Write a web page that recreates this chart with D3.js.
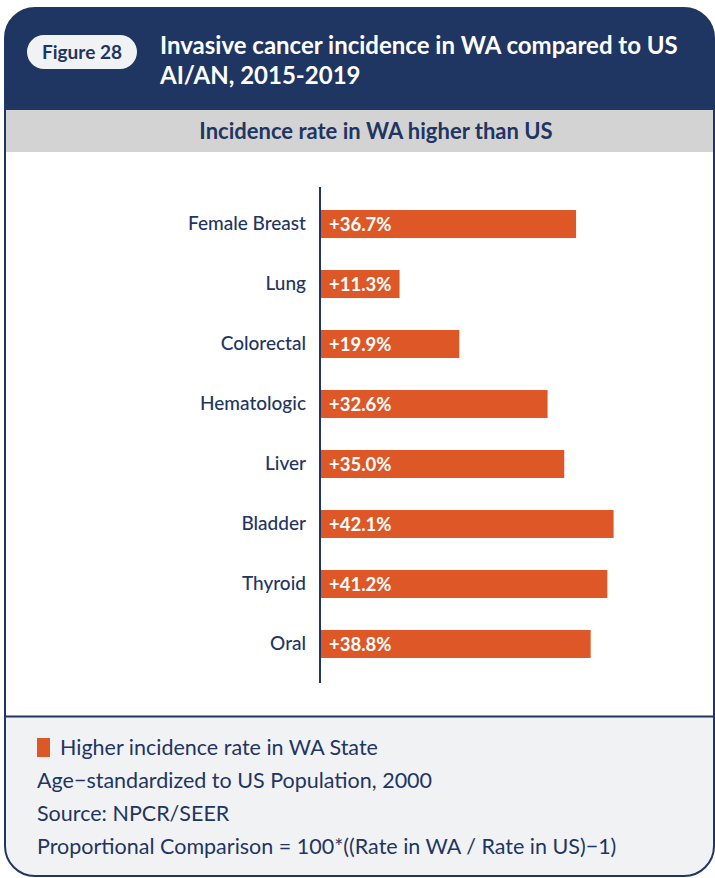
<!DOCTYPE html>
<html>
<head>
<meta charset="utf-8">
<script src="https://cdn.jsdelivr.net/npm/d3@7"></script>
<style>
  html, body { margin: 0; padding: 0; background: #ffffff; }
  svg { display: block; }
  text { font-family: Lato, "Open Sans", sans-serif; }
</style>
</head>
<body>
<svg id="chart" width="715" height="878"></svg>
<script>
const categories = ["Female Breast", "Lung", "Colorectal", "Hematologic", "Liver", "Bladder", "Thyroid", "Oral"];
const values = [36.7, 11.3, 19.9, 32.6, 35.0, 42.1, 41.2, 38.8];
const valueLabels = ["+36.7%", "+11.3%", "+19.9%", "+32.6%", "+35.0%", "+42.1%", "+41.2%", "+38.8%"];
const titleLines = ["Invasive cancer incidence in WA compared to US", "AI/AN, 2015-2019"];
const figureLabel = "Figure 28";
const subtitle = "Incidence rate in WA higher than US";
const legendLabel = "Higher incidence rate in WA State";
const footnotes = ["Age\u2212standardized to US Population, 2000", "Source: NPCR/SEER", "Proportional Comparison = 100*((Rate in WA / Rate in US)\u22121)"];

const NAVY = "#1f3562";
const ORANGE = "#dd5727";

const svg = d3.select("#chart");

const defs = svg.append("defs");
defs.append("clipPath").attr("id", "card")
  .append("rect").attr("x", 5).attr("y", 8).attr("width", 709).attr("height", 868).attr("rx", 30);

const g = svg.append("g").attr("clip-path", "url(#card)");
g.append("rect").attr("x", 5).attr("y", 8).attr("width", 709).attr("height", 868).attr("fill", "#ffffff");
g.append("rect").attr("x", 0).attr("y", 0).attr("width", 715).attr("height", 110).attr("fill", NAVY);
g.append("rect").attr("x", 0).attr("y", 110).attr("width", 715).attr("height", 42).attr("fill", "#d3d3d3");
g.append("rect").attr("x", 0).attr("y", 716).attr("width", 715).attr("height", 170).attr("fill", "#f1f2f4");
g.append("line").attr("x1", 0).attr("x2", 715).attr("y1", 716.5).attr("y2", 716.5)
  .attr("stroke", NAVY).attr("stroke-width", 2);

svg.append("rect").attr("x", 5).attr("y", 8).attr("width", 709).attr("height", 868).attr("rx", 30)
  .attr("fill", "none").attr("stroke", NAVY).attr("stroke-width", 2);

svg.append("rect").attr("x", 27).attr("y", 35).attr("width", 110).attr("height", 34).attr("rx", 17)
  .attr("fill", "#f1f2f4");
svg.append("text").attr("x", 82).attr("y", 59).attr("text-anchor", "middle")
  .attr("font-size", 19).attr("font-weight", 700).attr("fill", NAVY).text(figureLabel);

svg.append("g").selectAll("text").data(titleLines).join("text")
  .attr("x", 160).attr("y", (d, i) => 54 + i * 30)
  .attr("font-size", 24).attr("font-weight", 700).attr("fill", "#ffffff").text(d => d);

svg.append("text").attr("x", 376).attr("y", 139).attr("text-anchor", "middle")
  .attr("font-size", 22).attr("font-weight", 700).attr("fill", NAVY).text(subtitle);

const x = d3.scaleLinear().domain([0, 50]).range([321, 321 + 6.95 * 50]);
const y = d3.scaleBand().domain(categories).range([194, 674]).paddingInner(0.533).paddingOuter(0.267);

svg.append("g").selectAll("rect").data(values).join("rect")
  .attr("x", x(0)).attr("y", (d, i) => y(categories[i]))
  .attr("width", d => x(d) - x(0)).attr("height", y.bandwidth())
  .attr("fill", ORANGE);

svg.append("g").selectAll("text").data(valueLabels).join("text")
  .attr("x", x(0) + 8).attr("y", (d, i) => y(categories[i]) + y.bandwidth() / 2)
  .attr("dy", "0.36em").attr("font-size", 18.5).attr("font-weight", 700).attr("fill", "#ffffff")
  .text(d => d);

const axis = svg.append("g").attr("transform", `translate(${x(0) - 1},0)`)
  .call(d3.axisLeft(y).tickSize(0).tickPadding(14));
axis.select(".domain").attr("stroke", NAVY).attr("stroke-width", 2).attr("d", "M0,187V683");
axis.selectAll(".tick text").attr("font-size", 19).attr("font-family", "Lato, sans-serif")
  .attr("fill", NAVY).attr("font-weight", 500);

svg.append("rect").attr("x", 37).attr("y", 738).attr("width", 13).attr("height", 19).attr("fill", ORANGE);
svg.append("text").attr("x", 60).attr("y", 755).attr("font-size", 21.5).attr("fill", NAVY).text(legendLabel);
svg.append("g").selectAll("text").data(footnotes).join("text")
  .attr("x", 37).attr("y", (d, i) => 788 + i * 33)
  .attr("font-size", 21.5).attr("fill", NAVY).text(d => d);
</script>
</body>
</html>
